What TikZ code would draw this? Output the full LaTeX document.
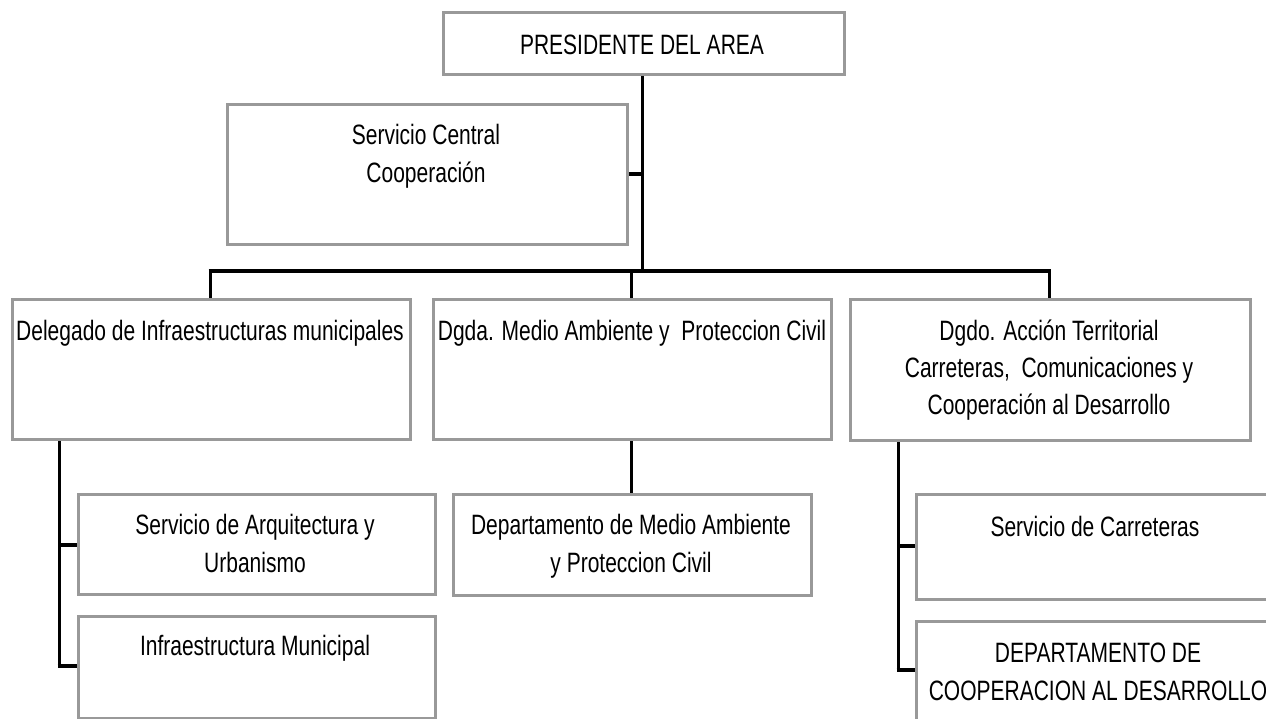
\documentclass[tikz,border=0pt]{standalone}
\usepackage{fontspec}
\setmainfont{Liberation Sans}[FakeStretch=0.75]
\begin{document}
\begin{tikzpicture}[x=1pt,y=-1pt,
  box/.style={draw=boxgray, line width=3pt, fill=white, inner sep=0pt, anchor=north west},
  lbl/.style={align=center, inner sep=0pt, anchor=base, font=\fontsize{28}{38}\selectfont},
  conn/.style={draw=black, line width=3pt},
  bus/.style={draw=black, line width=4pt},
  stub/.style={draw=black, line width=4pt}]
\definecolor{boxgray}{HTML}{999999}
\useasboundingbox (0,0) rectangle (1266,719);
\clip (0,0) rectangle (1266,719);
% boxes
\node[box, minimum width=401pt, minimum height=62pt] (pres) at (442,11) {};
\node[box, minimum width=400pt, minimum height=140pt] (serv) at (226,103) {};
\node[box, minimum width=398pt, minimum height=140pt] (b1) at (11,298) {};
\node[box, minimum width=398pt, minimum height=140pt] (b2) at (432,298) {};
\node[box, minimum width=400pt, minimum height=141pt] (b3) at (849,298) {};
\node[box, minimum width=357pt, minimum height=100pt] (c1) at (77,493) {};
\node[box, minimum width=357pt, minimum height=102pt] (c2) at (77,615) {};
\node[box, minimum width=358pt, minimum height=101pt] (m1) at (452,493) {};
\node[box, minimum width=360pt, minimum height=105pt] (r1) at (915,493) {};
\node[box, minimum width=360pt, minimum height=105pt] (r2) at (915,620) {};
% labels (anchor = baseline of the last line)
\node[lbl] (tpres) at (642,55) {PRESIDENTE DEL AREA};
\node[lbl] (tserv) at (426,183) {Servicio Central\\Cooperación};
\node[lbl] (tb1) at (210,340) {Delegado de Infraestructuras municipales};
\node[lbl] (tb2) at (632,340) {Dgda. Medio Ambiente y\ \ Proteccion Civil};
\node[lbl, font=\fontsize{28}{37}\selectfont] (tb3) at (1049,414) {Dgdo. Acción Territorial\\Carreteras,\ \ Comunicaciones y\\Cooperación al Desarrollo};
\node[lbl] (tc1) at (255,572) {Servicio de Arquitectura y\\Urbanismo};
\node[lbl] (tc2) at (255,655) {Infraestructura Municipal};
\node[lbl] (tm1) at (631,572) {Departamento de Medio Ambiente\\y Proteccion Civil};
\node[lbl] (tr1) at (1095,536) {Servicio de Carreteras};
\node[lbl] (tr2) at (1098,700) {DEPARTAMENTO DE\\COOPERACION AL DESARROLLO};
% connector coordinates
\coordinate (trunkbot) at (642,271);
\coordinate (busL) at (210,271);
\coordinate (busM) at (631,271);
\coordinate (busR) at (1049,271);
\coordinate (lv) at (59,666);
\coordinate (rv) at (898,670);
\coordinate (rs) at (898,546);
% connectors
\draw[conn] (pres.south -| trunkbot) -- (trunkbot);
\draw[stub] (serv.east) -- (serv.east -| trunkbot);
\draw[bus] ([xshift=-1.5pt]busL) -- ([xshift=1.5pt]busR);
\draw[conn] (busL) -- (b1.north -| busL);
\draw[conn] (busM) -- (b2.north -| busM);
\draw[conn] (busR) -- (b3.north -| busR);
\draw[conn] (b1.south -| lv) -- (lv);
\draw[stub] (c1.west -| lv) -- (c1.west);
\draw[stub] ([xshift=-1.5pt]lv) -- (c2.west |- lv);
\draw[conn] (b2.south -| busM) -- (m1.north -| busM);
\draw[conn] (b3.south -| rv) -- (rv);
\draw[stub] (rs) -- (r1.west |- rs);
\draw[stub] ([xshift=-1.5pt]rv) -- (r2.west |- rv);
\end{tikzpicture}
\end{document}
